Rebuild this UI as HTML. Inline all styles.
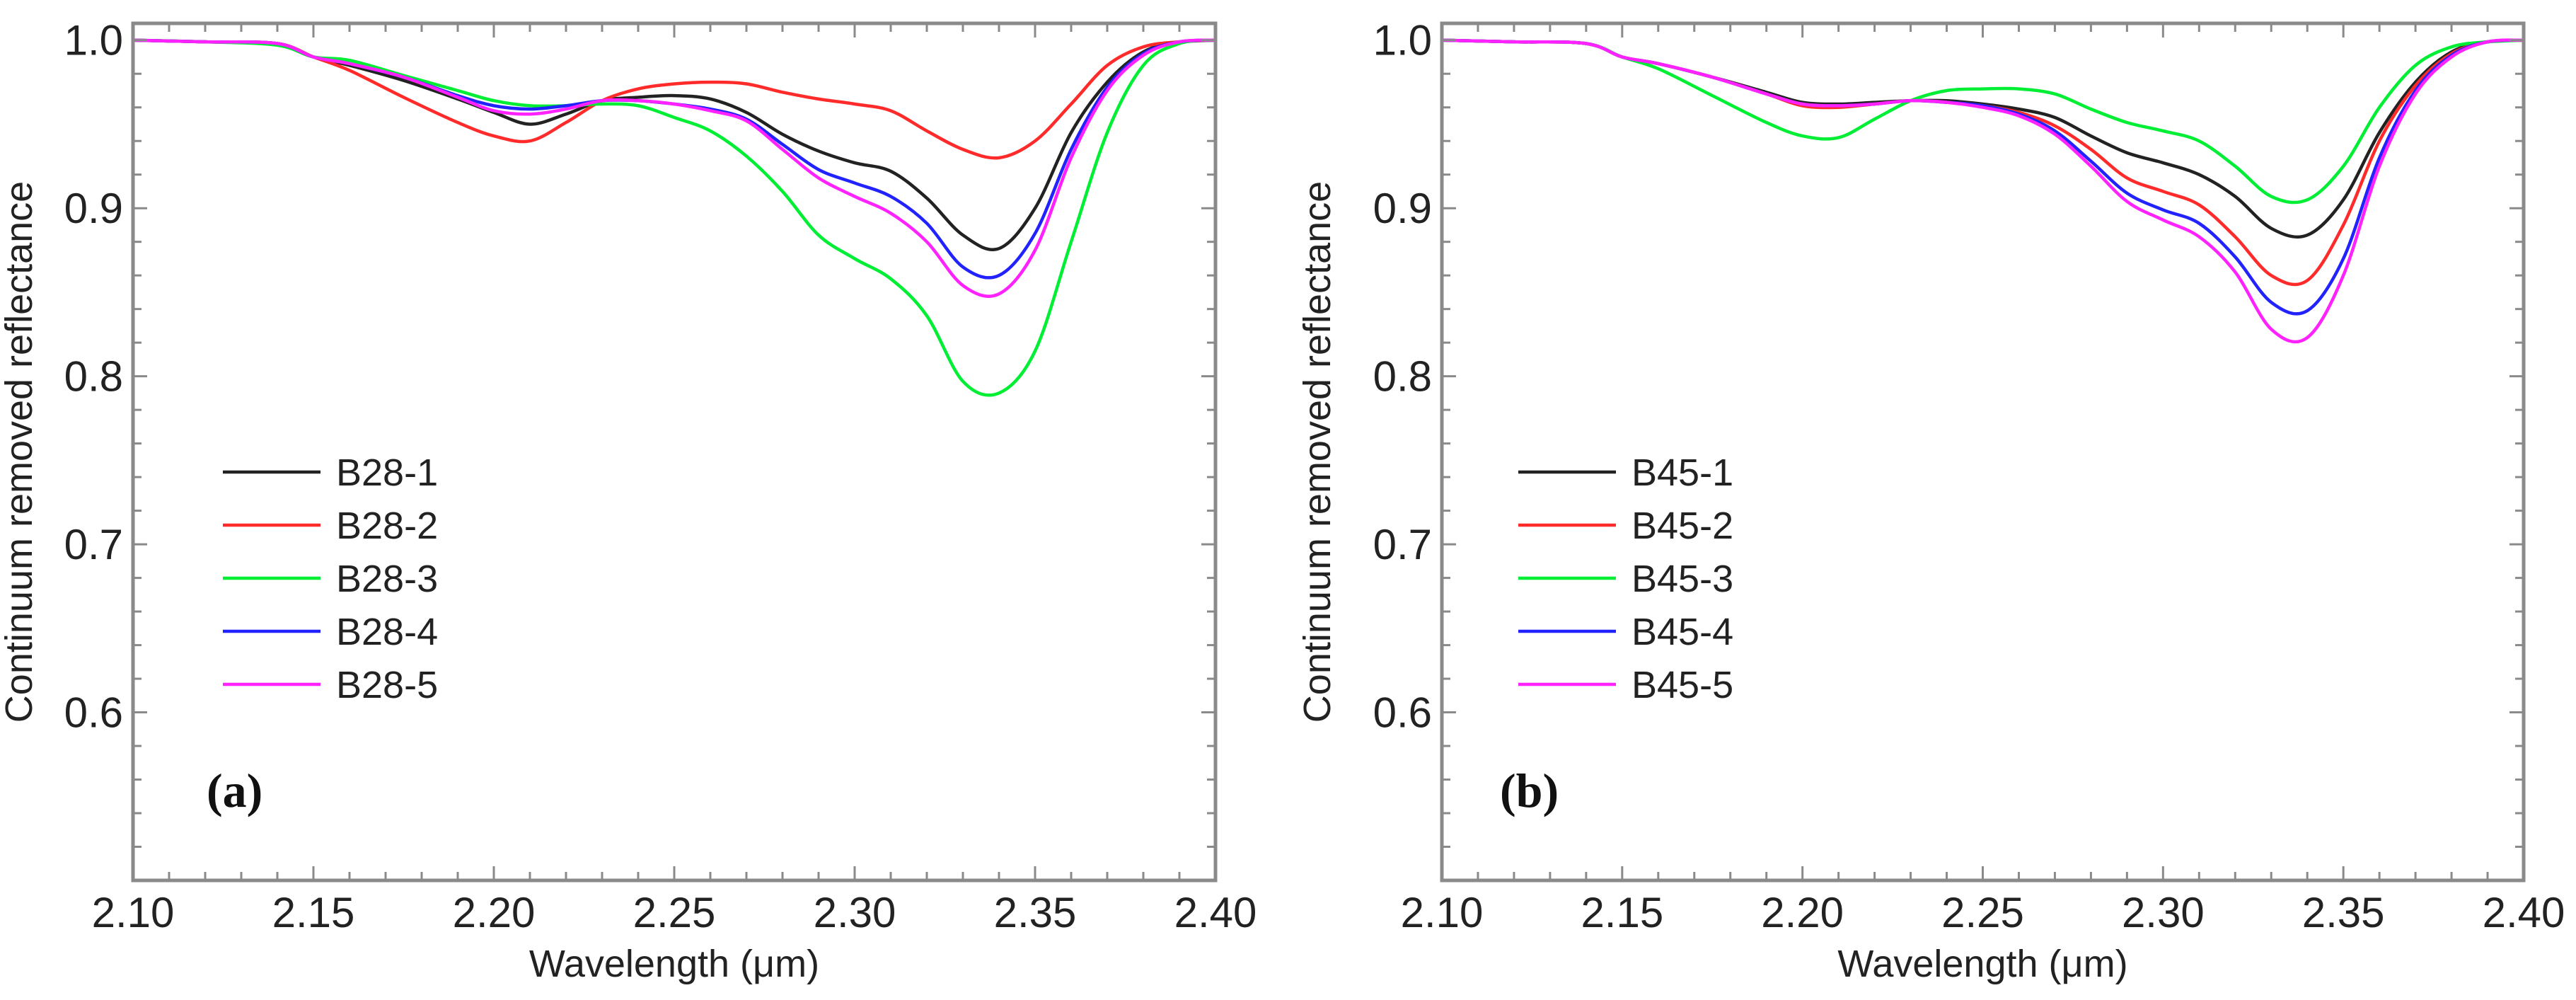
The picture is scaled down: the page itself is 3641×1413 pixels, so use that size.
<!DOCTYPE html>
<html><head><meta charset="utf-8"><style>
html,body{margin:0;padding:0;background:#fff;}
svg{display:block;}
text{font-family:"Liberation Sans",Arial,sans-serif;fill:#222;}
text.serif{font-family:"Liberation Serif","DejaVu Serif",serif;fill:#111;}
</style></head><body>
<svg id="fig" width="3641" height="1413" viewBox="0 0 3641 1413" xmlns="http://www.w3.org/2000/svg"></svg>
<script>
const wavelengths=[2.10,2.12,2.14,2.15,2.16,2.175,2.19,2.20,2.21,2.22,2.23,2.24,2.25,2.26,2.27,2.28,2.29,2.30,2.31,2.32,2.33,2.34,2.35,2.36,2.37,2.38,2.39,2.40];
const xTicks=[2.10,2.15,2.20,2.25,2.30,2.35,2.40];
const xTickLabels=["2.10","2.15","2.20","2.25","2.30","2.35","2.40"];
const yTicks=[0.6,0.7,0.8,0.9,1.0];
const yTickLabels=["0.6","0.7","0.8","0.9","1.0"];
const namesA=["B28-1","B28-2","B28-3","B28-4","B28-5"];
const namesB=["B45-1","B45-2","B45-3","B45-4","B45-5"];
const colors=["#222222","#ff2a2a","#00ee33","#2222ff","#ff22ff"];
const a1=[1,0.999,0.998,0.990,0.985,0.976,0.965,0.957,0.950,0.956,0.964,0.966,0.967,0.965,0.957,0.944,0.934,0.927,0.922,0.906,0.884,0.876,0.900,0.945,0.975,0.993,0.999,1];
const a2=[1,0.999,0.998,0.990,0.982,0.966,0.951,0.943,0.940,0.951,0.964,0.971,0.974,0.975,0.974,0.969,0.965,0.962,0.958,0.946,0.935,0.930,0.940,0.962,0.985,0.996,0.999,1];
const a3=[1,0.999,0.997,0.990,0.988,0.979,0.970,0.964,0.961,0.961,0.962,0.961,0.954,0.946,0.931,0.910,0.884,0.870,0.858,0.836,0.797,0.790,0.815,0.880,0.945,0.985,0.998,1];
const a4=[1,0.999,0.998,0.990,0.986,0.978,0.967,0.961,0.959,0.961,0.964,0.964,0.962,0.959,0.953,0.938,0.923,0.915,0.907,0.891,0.865,0.860,0.885,0.935,0.972,0.992,0.999,1];
const a5=[1,0.999,0.998,0.990,0.986,0.978,0.966,0.958,0.956,0.959,0.964,0.964,0.962,0.958,0.952,0.935,0.918,0.907,0.897,0.880,0.854,0.849,0.875,0.930,0.970,0.991,0.999,1];
const b1=[1,0.999,0.998,0.990,0.986,0.978,0.969,0.963,0.962,0.963,0.964,0.964,0.962,0.959,0.954,0.943,0.933,0.927,0.920,0.907,0.888,0.884,0.905,0.945,0.975,0.993,0.999,1];
const b2=[1,0.999,0.998,0.990,0.986,0.978,0.968,0.961,0.960,0.962,0.964,0.963,0.961,0.957,0.949,0.935,0.918,0.910,0.902,0.883,0.860,0.857,0.890,0.940,0.973,0.992,0.999,1];
const b3=[1,0.999,0.998,0.990,0.983,0.967,0.951,0.943,0.942,0.953,0.964,0.970,0.971,0.971,0.968,0.959,0.951,0.946,0.940,0.925,0.907,0.905,0.925,0.960,0.985,0.996,0.999,1];
const b4=[1,0.999,0.998,0.990,0.986,0.978,0.968,0.962,0.961,0.962,0.964,0.963,0.961,0.956,0.946,0.928,0.909,0.899,0.891,0.871,0.844,0.839,0.870,0.930,0.970,0.991,0.999,1];
const b5=[1,0.999,0.998,0.990,0.986,0.978,0.968,0.962,0.961,0.962,0.964,0.963,0.960,0.955,0.944,0.925,0.904,0.893,0.883,0.862,0.828,0.823,0.860,0.925,0.968,0.990,0.999,1];

const NS="http://www.w3.org/2000/svg";
const svg=document.getElementById('fig');
function mk(tag,attrs,parent){const e=document.createElementNS(NS,tag);for(const k in attrs)e.setAttribute(k,attrs[k]);(parent||svg).appendChild(e);return e;}

function panel(x0,x1,y0,y1,series,names,tag,legX,legY,ylabX,lettX){
  const g=mk('g',{});
  
  
  const xs=v=>x0+(v-2.10)/0.30*(x1-x0);
  const ys=v=>y1-(v-0.50)/0.51*(y1-y0);
  series.forEach((arr,si)=>{
    const pts=wavelengths.map((w,i)=>[xs(w),ys(arr[i])]);
    let d='M'+pts[0][0]+','+pts[0][1];
    for(let i=0;i<pts.length-1;i++){
      const p0=pts[Math.max(0,i-1)],p1=pts[i],p2=pts[i+1],p3=pts[Math.min(pts.length-1,i+2)];
      const c1x=p1[0]+(p2[0]-p0[0])/6,c1y=p1[1]+(p2[1]-p0[1])/6;
      const c2x=p2[0]-(p3[0]-p1[0])/6,c2y=p2[1]-(p3[1]-p1[1])/6;
      d+=' C'+c1x+','+c1y+' '+c2x+','+c2y+' '+p2[0]+','+p2[1];
    }
    const p=mk('path',{d:d,fill:'none',stroke:colors[si],'stroke-width':4.5},g);
    
    
  });
  const fr=mk('rect',{x:x0,y:y0,width:x1-x0,height:y1-y0,fill:'none',stroke:'#8a8a8a','stroke-width':5},g);
  
  
  for(let k=0;k<=30;k++){
    const v=2.10+k*0.01;const px=xs(v);const L=(k%5===0)?20:12;
    mk('line',{x1:px,x2:px,y1:y1,y2:y1-L,stroke:'#8a8a8a','stroke-width':3},g);
    mk('line',{x1:px,x2:px,y1:y0,y2:y0+L,stroke:'#8a8a8a','stroke-width':3},g);
  }
  xTicks.forEach((v,i)=>{
    const t=mk('text',{x:xs(v),y:y1+66,'font-size':60,'text-anchor':'middle'},g);
    t.textContent=xTickLabels[i];
    
    
  });
  for(let k=0;k<=25;k++){
    const v=0.50+k*0.02;const py=ys(v);const L=(k%5===0)?20:12;
    mk('line',{x1:x0,x2:x0+L,y1:py,y2:py,stroke:'#8a8a8a','stroke-width':3},g);
    mk('line',{x1:x1,x2:x1-L,y1:py,y2:py,stroke:'#8a8a8a','stroke-width':3},g);
  }
  yTicks.forEach((v,i)=>{
    const t=mk('text',{x:x0-14,y:ys(v)+21,'font-size':60,'text-anchor':'end'},g);
    t.textContent=yTickLabels[i];
    
    
  });
  const xt=mk('text',{x:(x0+x1)/2,y:y1+136,'font-size':54,'text-anchor':'middle'},g);
  xt.textContent='Wavelength (\u03bcm)';
  
  
  const yt=mk('text',{x:ylabX,y:(y0+y1)/2,'font-size':54,'text-anchor':'middle',transform:'rotate(-90 '+ylabX+' '+((y0+y1)/2)+')'},g);
  yt.textContent='Continuum removed reflectance';
  
  
  names.forEach((n,i)=>{
    const y=legY+i*75;
    const l=mk('line',{x1:legX,x2:legX+138,y1:y,y2:y,stroke:colors[i],'stroke-width':4.5},g);
    
    
    const t=mk('text',{x:legX+160,y:y+19,'font-size':54},g);
    t.textContent=n;
    
    
  });
  const lt=mk('text',{x:lettX,y:1140,'font-size':68,'font-weight':'bold','class':'serif',style:'font-family:"Liberation Serif",serif;'},g);
  lt.textContent='('+tag+')';
  
  
}
panel(188,1718,33,1244,[a1,a2,a3,a4,a5],namesA,'a',315,667,45,292);
panel(2038,3567,33,1244,[b1,b2,b3,b4,b5],namesB,'b',2146,667,1880,2120);
</script>
</body></html>
